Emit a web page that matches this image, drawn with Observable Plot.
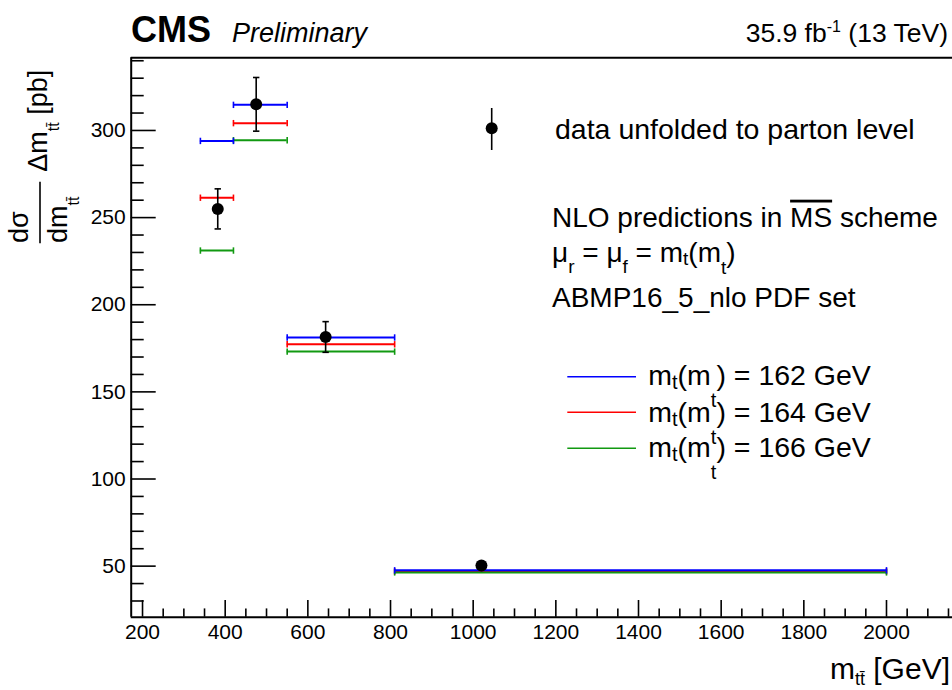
<!DOCTYPE html>
<html>
<head>
<meta charset="utf-8">
<script src="https://cdn.jsdelivr.net/npm/d3@7"></script>
<script src="https://cdn.jsdelivr.net/npm/@observablehq/plot@0.6"></script>
<style>
  html, body { margin: 0; padding: 0; background: white; }
  svg text { font-family: "Liberation Sans", Arial, sans-serif; }
</style>
</head>
<body>
<div id="chart"></div>
<script>
// ---- data ----
const binLo = [340, 420, 550, 810];
const binHi = [420, 550, 810, 2000];
const dataX = [382, 475, 643, 1020];
const dataY = [255, 315, 181.5, 50.4];
const dataErr = [11.5, 15.4, 8.8, 2.0];
const pred162 = [294.0, 314.7, 181.2, 47.6];
const pred164 = [261.4, 304.2, 177.3, 47.0];
const pred166 = [231.1, 294.4, 173.1, 46.4];
const predLabels = ["162", "164", "166"];
const predColors = ["#0000ff", "#ff0000", "#119911"];
const xMajor = [200, 400, 600, 800, 1000, 1200, 1400, 1600, 1800, 2000];
const yMajor = [50, 100, 150, 200, 250, 300];
const xMinor = d3.range(250, 2160, 50).filter(v => v % 200 !== 0);
const yMinor = d3.range(30, 341, 10).filter(v => v % 50 !== 0);
const xDomain = [172.6, 2159.7];
const yDomain = [20.7, 341.7];

// ---- layout ----
const W = 952, H = 690;
const mL = 130.7, mR = 0, mT = 57.3, mB = 73.3;
const frameW = W - mL - mR, frameH = H - mT - mB;

const dataRows = dataX.map((x, i) => ({x, y: dataY[i], lo: dataY[i] - dataErr[i], hi: dataY[i] + dataErr[i]}));
const predRows = (vals) => vals.map((v, i) => ({x1: binLo[i], x2: binHi[i], y: v}));
const preds = [pred162, pred164, pred166].map(predRows);

const vbar = {draw(ctx, size) { const r = Math.sqrt(size / Math.PI); ctx.moveTo(0, -r); ctx.lineTo(0, r); }};
const hbar = {draw(ctx, size) { const r = Math.sqrt(size / Math.PI); ctx.moveTo(-r, 0); ctx.lineTo(r, 0); }};

const predMarks = [];
[1, 2, 0].forEach(k => {
  const rows = preds[k], c = predColors[k];
  predMarks.push(Plot.ruleY(rows, {y: "y", x1: "x1", x2: "x2", stroke: c, strokeWidth: 2}));
  predMarks.push(Plot.dot(rows, {x: "x1", y: "y", symbol: vbar, r: 3.2, stroke: c, strokeWidth: 1.6, fill: "none"}));
  predMarks.push(Plot.dot(rows, {x: "x2", y: "y", symbol: vbar, r: 3.2, stroke: c, strokeWidth: 1.6, fill: "none"}));
});

const plot = Plot.plot({
  width: W, height: H,
  marginLeft: mL, marginRight: mR, marginTop: mT, marginBottom: mB,
  style: {background: "white", color: "black", fontFamily: "'Liberation Sans', Arial, sans-serif", overflow: "visible"},
  x: {domain: xDomain},
  y: {domain: yDomain},
  marks: [
    Plot.axisX({ticks: xMajor, tickSize: 0, tickPadding: 6.7, fontSize: 21, label: null, tickFormat: d => String(d)}),
    Plot.axisY({ticks: yMajor, tickSize: 0, tickPadding: 5.5, fontSize: 21, label: null, tickFormat: d => String(d)}),
    Plot.tickX(xMajor, {x: d => d, insetTop: frameH - 16.7, strokeWidth: 1.6}),
    Plot.tickX(xMinor, {x: d => d, insetTop: frameH - 8.3, strokeWidth: 1.6}),
    Plot.tickY(yMajor, {y: d => d, insetRight: frameW - 25, strokeWidth: 1.6}),
    Plot.tickY(yMinor, {y: d => d, insetRight: frameW - 13, strokeWidth: 1.6}),
    ...predMarks,
    Plot.ruleX(dataRows, {x: "x", y1: "lo", y2: "hi", stroke: "black", strokeWidth: 1.6}),
    Plot.dot(dataRows, {x: "x", y: "lo", symbol: hbar, r: 3.2, stroke: "black", strokeWidth: 1.6}),
    Plot.dot(dataRows, {x: "x", y: "hi", symbol: hbar, r: 3.2, stroke: "black", strokeWidth: 1.6}),
    Plot.dot(dataRows, {x: "x", y: "y", r: 6, fill: "black"}),
    Plot.ruleX([xDomain[0]], {stroke: "black", strokeWidth: 2}),
    Plot.ruleY([yDomain[0], yDomain[1]], {stroke: "black", strokeWidth: 2})
  ]
});
document.getElementById("chart").appendChild(plot);

// ---- annotations ----
const svg = d3.select(plot);
const FF = "'Liberation Sans', Arial, sans-serif";
function txt(x, y, size, opts = {}) {
  const t = svg.append("text").attr("font-size", size)
    .attr("font-family", FF).attr("fill", "black")
    .attr("text-anchor", opts.anchor || "start")
    .attr("font-weight", opts.weight || null)
    .attr("font-style", opts.style || null);
  if (opts.rotate) t.attr("x", 0).attr("y", 0).attr("transform", `translate(${x},${y}) rotate(-90)`);
  else t.attr("x", x).attr("y", y);
  return t;
}
// header
txt(131, 42, 36, {weight: "bold"}).text("CMS");
txt(232, 42, 27, {style: "italic"}).text("Preliminary");
{
  const t = txt(948, 41.5, 26.5, {anchor: "end"});
  t.append("tspan").text("35.9 fb");
  t.append("tspan").attr("font-size", 16).attr("dy", -10).text("-1");
  t.append("tspan").attr("dy", 10).text(" (13 TeV)");
}
// data legend
svg.append("line").attr("x1", 491.7).attr("x2", 491.7).attr("y1", 108).attr("y2", 150).attr("stroke", "black").attr("stroke-width", 1.6);
svg.append("circle").attr("cx", 491.7).attr("cy", 128.3).attr("r", 6).attr("fill", "black");
txt(555, 139, 28.5).text("data unfolded to parton level");

// NLO block
{
  const t = txt(552, 226.7, 28);
  t.append("tspan").text("NLO predictions in ");
  t.append("tspan").attr("text-decoration", "overline").style("text-decoration", "overline").text("MS");
  t.append("tspan").text(" scheme");
}
{
  const t = txt(552, 261.7, 28);
  t.append("tspan").text("\u03bc");
  t.append("tspan").attr("font-size", 19).attr("dy", 11).text("r");
  t.append("tspan").attr("dy", -11).text(" = \u03bc");
  t.append("tspan").attr("font-size", 19).attr("dy", 11).text("f");
  t.append("tspan").attr("dy", -11).text(" = m");
  t.append("tspan").attr("font-size", 19).attr("dy", 3).text("t");
  t.append("tspan").attr("dy", -3).text("(m");
  t.append("tspan").attr("font-size", 19).attr("dy", 12).text("t");
  t.append("tspan").attr("dy", -12).text(")");
}
txt(552, 306.7, 28).text("ABMP16_5_nlo PDF set");

// prediction legend
const legY = [376.7, 412.3, 448.3];
const legBase = [385, 421.7, 457.3];
predLabels.forEach((lab, k) => {
  svg.append("line").attr("x1", 567.3).attr("x2", 636).attr("y1", legY[k]).attr("y2", legY[k])
    .attr("stroke", predColors[k]).attr("stroke-width", 1.6);
  const t = txt(648.3, legBase[k], 28.5);
  t.append("tspan").text("m");
  t.append("tspan").attr("font-size", 20).attr("dy", 4).text("t");
  t.append("tspan").attr("dy", -4).text("(m");
  t.append("tspan").attr("font-size", 20).attr("dy", 22).text("t");
  t.append("tspan").attr("dy", -22).text(`) = ${lab} GeV`);
});

// x axis title
{
  const t = txt(950, 679, 30, {anchor: "end"});
  t.append("tspan").text("m");
  t.append("tspan").attr("font-size", 18).attr("dy", 6).text("tt\u0304");
  t.append("tspan").attr("dy", -6).text(" [GeV]");
}
// y axis title (rotated, reads bottom to top)
txt(28.3, 243, 27, {rotate: true}).text("d\u03c3");
svg.append("line").attr("x1", 40).attr("x2", 40).attr("y1", 181.7).attr("y2", 243.3)
  .attr("stroke", "black").attr("stroke-width", 1.6);
{
  const d = txt(66.7, 243, 27, {rotate: true});
  d.append("tspan").text("dm");
  d.append("tspan").attr("font-size", 16).attr("dy", 12).text("tt\u0304");
}
{
  const n = txt(46.7, 171.7, 27, {rotate: true});
  n.append("tspan").text("\u0394m");
  n.append("tspan").attr("font-size", 16).attr("dy", 12).text("tt\u0304");
  n.append("tspan").attr("dy", -12).text(" [pb]");
}
</script>
</body>
</html>
